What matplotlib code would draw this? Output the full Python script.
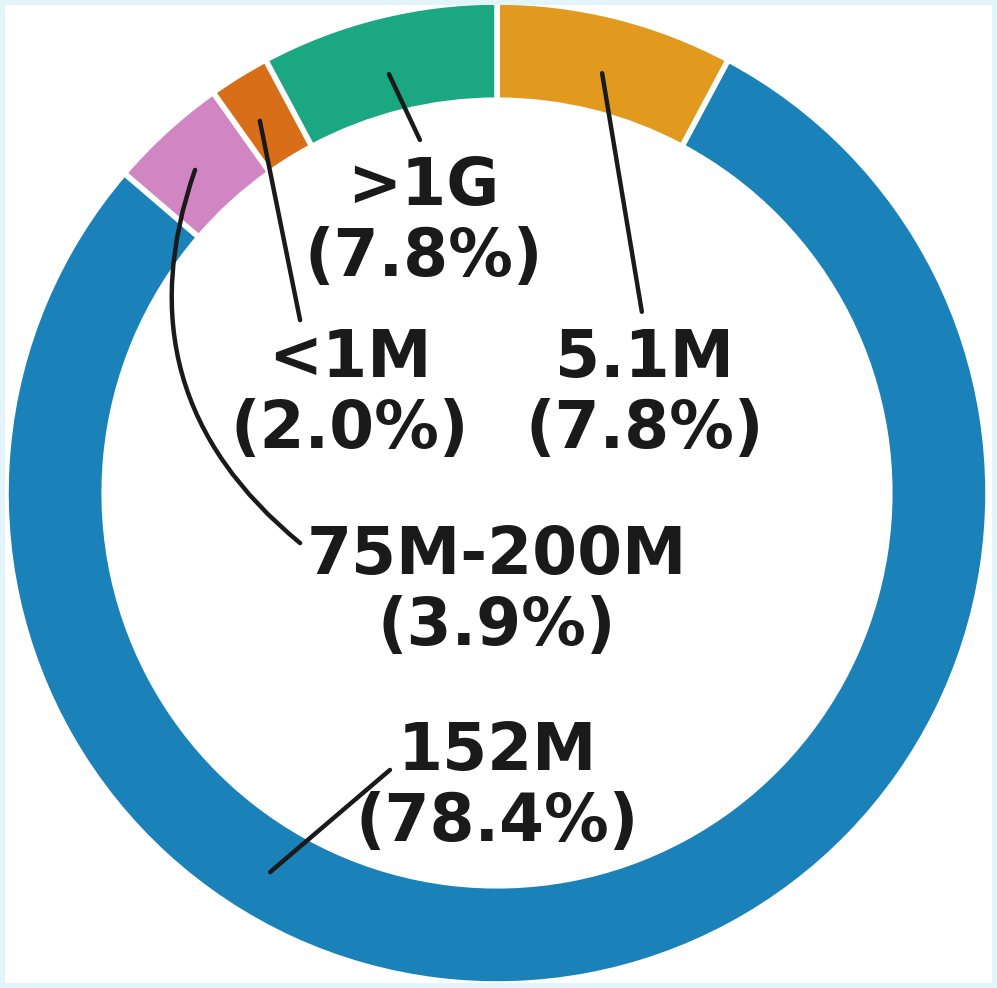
import numpy as np
import matplotlib
matplotlib.use("Agg")
import matplotlib.pyplot as plt
from matplotlib.patches import Rectangle
import seaborn as sns

# -- data (clockwise from 12 o'clock) ---------------------------
labels  = ["5.1M", "152M", "75M-200M", "<1M", ">1G"]
shares  = [7.8, 78.4, 3.9, 2.0, 7.8]
pal     = sns.color_palette("colorblind")
colors  = [(*pal[i], 0.9) for i in (1, 0, 4, 3, 2)]

# -- label layout (data units, ring radius = 1) ------------------
text_pos   = [(0.30, 0.20), (0.0, -0.60), (0.0, -0.20), (-0.30, 0.20), (-0.15, 0.55)]
anchor_pos = [(0.214, 0.855), (-0.462, -0.772), (-0.615, 0.658), (-0.483, 0.758), (-0.220, 0.853)]
line_end   = [(0.295, 0.369), (-0.218, -0.564), (-0.401, -0.102), (-0.401, 0.352), (-0.157, 0.719)]
line_rad   = [0.0, 0.0, -0.35, 0.0, 0.0]

INK = "#1a1a1a"

fig = plt.figure(figsize=(9.97, 9.88), dpi=100)
ax = fig.add_axes([0, 0, 1, 1])
ax.set_aspect("equal")
ax.axis("off")

ax.pie(shares, colors=colors, startangle=90, counterclock=False, radius=1.0,
       wedgeprops=dict(width=0.2, edgecolor="white", linewidth=4))

for lab, val, (tx, ty), (ax0, ay0), (lx, ly), rad in zip(
        labels, shares, text_pos, anchor_pos, line_end, line_rad):
    ax.annotate("", xy=(ax0, ay0), xytext=(lx, ly),
                arrowprops=dict(arrowstyle="-", color=INK, lw=3.2,
                                shrinkA=0, shrinkB=0, capstyle="round",
                                connectionstyle=f"arc3,rad={rad}"))
    ax.text(tx, ty, f"{lab}\n({val:.1f}%)", ha="center", va="center",
            fontsize=46.5, fontweight="bold", color=INK, linespacing=1.14,
            family="DejaVu Sans")

ax.set_xlim(-497 / 491, (997 - 497) / 491)
ax.set_ylim(-(988 - 493) / 491, 493 / 491)

fig.patches.append(Rectangle((0, 0), 1, 1, transform=fig.transFigure, fill=False,
                             edgecolor="#e4f4fb", linewidth=7.2, zorder=10))

plt.savefig("out.png", dpi=100, facecolor="white")
plt.close()
